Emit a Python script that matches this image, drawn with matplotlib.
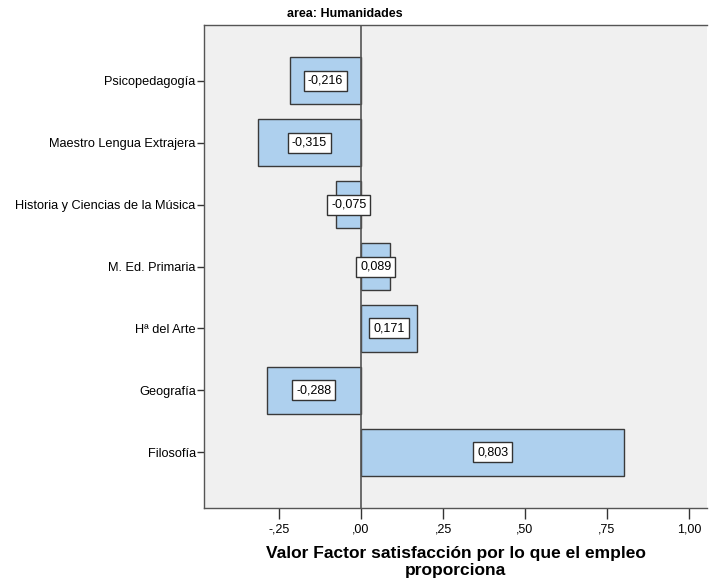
import matplotlib.pyplot as plt

plt.rcParams['font.family'] = ['Liberation Sans', 'DejaVu Sans']

careers = ["Psicopedagogía", "Maestro Lengua Extrajera", "Historia y Ciencias de la Música",
           "M. Ed. Primaria", "Hª del Arte", "Geografía", "Filosofía"]
values = [-0.216, -0.315, -0.075, 0.089, 0.171, -0.288, 0.803]
xticks = [-0.25, 0.0, 0.25, 0.5, 0.75, 1.0]
xtick_labels = ["-,25", ",00", ",25", ",50", ",75", "1,00"]

fig = plt.figure(figsize=(7.09, 5.82), dpi=100)
ax = fig.add_axes([204 / 709, 1 - 508 / 582, 503 / 709, 483 / 582])
ax.set_facecolor("#f0f0f0")

pos = list(range(len(careers)))
ax.barh(pos, values, height=0.76, color="#aed0ee", edgecolor="#3a3a3a", linewidth=1, zorder=2)
ax.axvline(0, color="#555555", linewidth=1.2, zorder=3)

for y, v in zip(pos, values):
    lab = f"{v:.3f}".replace(".", ",")
    ax.text(v / 2, y, lab, ha="center", va="center", fontsize=9, zorder=4,
            bbox=dict(boxstyle="square,pad=0.32", facecolor="white", edgecolor="#333333", linewidth=1))

ax.set_ylim(len(careers) - 1 + 0.9, -0.9)
ax.set_xlim(-0.479, 1.055)
ax.set_yticks(pos)
ax.set_yticklabels(careers, fontsize=9.2)
ax.set_xticks(xticks)
ax.set_xticklabels(xtick_labels, fontsize=9)
ax.tick_params(axis="y", length=5, width=1, color="#333333", pad=1)
ax.tick_params(axis="x", length=8, width=1, color="#333333", pad=3)

for side in ["left", "top", "bottom"]:
    ax.spines[side].set_color("#555555")
    ax.spines[side].set_linewidth(1)
ax.spines["right"].set_visible(False)

fig.text(345 / 709, 1 - 14 / 582, "area: Humanidades", ha="center", va="center",
         fontsize=9, fontweight="bold")
ax.set_xlabel("Valor Factor satisfacción por lo que el empleo\nproporciona",
              fontsize=12.5, fontweight="bold", linespacing=1.1, labelpad=8)

fig.savefig("out.png", dpi=100)
